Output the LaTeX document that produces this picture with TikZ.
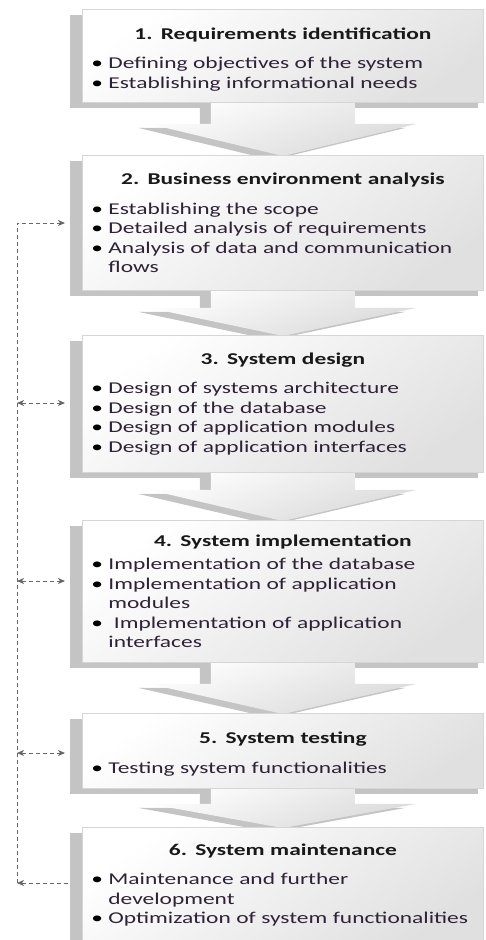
\documentclass[tikz,border=0pt]{standalone}
\usepackage{fontspec}
\setmainfont{Carlito}[FakeStretch=1.42]
\usetikzlibrary{arrows.meta,calc}
\pgfdeclarelayer{shadowlayer}
\pgfdeclarelayer{background}
\pgfsetlayers{shadowlayer,background,main}
\definecolor{txtcol}{HTML}{2E2236}
\definecolor{shadowgray}{HTML}{C4C4C4}
\definecolor{edgegray}{HTML}{D6D6D6}
\definecolor{loopgray}{HTML}{666666}
\tikzstyle{stage} = [
	rectangle,
	draw=edgegray,
	line width=0.8pt,
	top color=white,
	bottom color=black!12,
	shading angle=35,
	minimum width=401pt,
	text width=383pt,
	inner xsep=9pt,
	inner ysep=0pt,
	anchor=north west,
	align=left,
	text=txtcol,
	font=\fontsize{16.5}{19.5}\selectfont
]
\tikzstyle{stageshadow} = [fill=shadowgray]
\tikzstyle{flowbody} = [top color=white, bottom color=black!15, shading angle=20]
\tikzstyle{loopline} = [loopgray, line width=1pt, dash pattern=on 4pt off 3pt, >={Stealth[length=7pt, width=6pt, inset=2pt]}]
\newcommand{\stagetitle}[2][10pt]{{\centering\bfseries\color{black!90}#2\par}\vspace{#1}}
\newcommand{\liftedtitle}[2]{{\centering\bfseries\color{black!90}\rule{0pt}{#1}#2\par}\vspace{10pt}}
\newcommand{\stageitem}[1]{\par\noindent\hangindent=17pt\hangafter=1\makebox[17pt][l]{\color{black}\textbullet}#1\par}
\newcommand{\boxshadow}[1]{\fill [stageshadow] ($(#1.north west)+(-12,6)$) rectangle ($(#1.south east)+(-6,5)$);}
\newcommand{\flowpath}[3]{($(#1.south)+(-72,-4)$) -- ($(#1.south)+(-72,#3)$) -- ($(#1.south)+(-134,#3)$) -- ($(#2.north)+(0,1)$) -- ($(#1.south)+(134,#3)$) -- ($(#1.south)+(72,#3)$) -- ($(#1.south)+(72,-4)$) -- cycle}
\newcommand{\flowarrow}[3]{%
	\begin{pgfonlayer}{shadowlayer}
		\fill [stageshadow, transform canvas={xshift=-11pt, yshift=-4pt}] \flowpath{#1}{#2}{#3};
	\end{pgfonlayer}
	\begin{pgfonlayer}{background}
		\shade [flowbody] \flowpath{#1}{#2}{#3};
	\end{pgfonlayer}}

\begin{document}
\begin{tikzpicture}[x=1pt, y=-1pt]
	\useasboundingbox (0,0) rectangle (485,940);
	\clip (0,0) rectangle (485,940);
	\node (req) [stage, minimum height=93pt] at (82,9) {\liftedtitle{19pt}{1. Requirements identification}
		\stageitem{Defining objectives of the system}
		\stageitem{Establishing informational needs}};
	\node (bus) [stage, minimum height=135pt] at (82,155) {\stagetitle{2. Business environment analysis}
		\stageitem{Establishing the scope}
		\stageitem{Detailed analysis of requirements}
		\stageitem{Analysis of data and communication\newline flows}};
	\node (des) [stage, minimum height=137pt] at (82,335) {\stagetitle{3. System design}
		\stageitem{Design of systems architecture}
		\stageitem{Design of the database}
		\stageitem{Design of application modules}
		\stageitem{Design of application interfaces}};
	\node (impl) [stage, minimum height=142pt] at (82,520) {\stagetitle[4pt]{4. System implementation}
		\stageitem{Implementation of the database}
		\stageitem{Implementation of application\newline modules}
		\stageitem{ Implementation of application\newline interfaces}};
	\node (test) [stage, minimum height=75pt] at (82,713) {\liftedtitle{18pt}{5. System testing}
		\stageitem{Testing system functionalities}};
	\node (maint) [stage, minimum height=115pt] at (82,827) {\stagetitle{6. System maintenance}
		\stageitem{Maintenance and further\newline development}
		\stageitem{Optimization of system functionalities}};
	\begin{pgfonlayer}{shadowlayer}
		\boxshadow{req}
		\boxshadow{bus}
		\boxshadow{des}
		\boxshadow{impl}
		\boxshadow{test}
		\boxshadow{maint}
	\end{pgfonlayer}
	\flowarrow{req}{bus}{21}
	\flowarrow{bus}{des}{17}
	\flowarrow{des}{impl}{17}
	\flowarrow{impl}{test}{21}
	\flowarrow{test}{maint}{15}
	\coordinate (loopbot) at (17,883);
	\coordinate (looptop) at (17,223);
	\coordinate (back6) at (70,883);
	\coordinate (in2) at (65,223);
	\coordinate (l3) at (17,403);
	\coordinate (in3) at (65,403);
	\coordinate (l4) at (17,581);
	\coordinate (in4) at (65,581);
	\coordinate (l5) at (17,753);
	\coordinate (in5) at (65,753);
	\draw [loopline, <-] (loopbot) -- (back6);
	\draw [loopline, ->] (loopbot) -- (looptop) -- (in2);
	\draw [loopline, <->] (l3) -- (in3);
	\draw [loopline, <->] (l4) -- (in4);
	\draw [loopline, <->] (l5) -- (in5);
\end{tikzpicture}
\end{document}
